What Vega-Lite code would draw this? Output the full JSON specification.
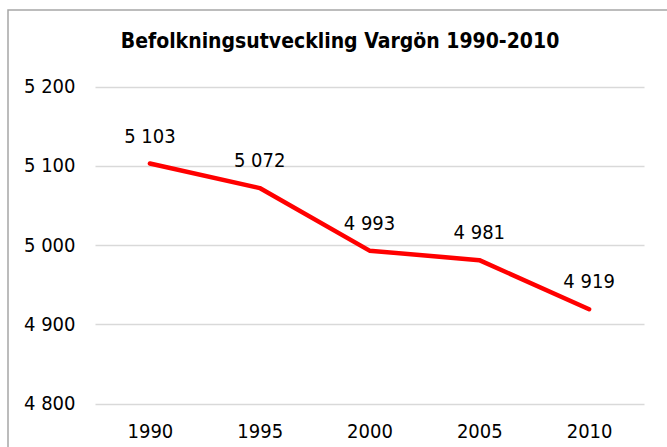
{
  "$schema": "https://vega.github.io/schema/vega-lite/v6.json",
  "autosize": {"type": "none"},
  "padding": {"left": 8, "top": 10, "right": 0, "bottom": 0},
  "width": 664,
  "height": 445,
  "background": "white",
  "config": {
    "font": "DejaVu Sans Condensed",
    "locale": {"number": {"decimal": ",", "thousands": " ", "grouping": [3], "currency": ["", " kr"]}},
    "view": {"stroke": "#a6a6a6", "strokeWidth": 1.5}
  },
  "title": {
    "text": "Befolkningsutveckling Vargön 1990-2010",
    "anchor": "middle",
    "frame": "group",
    "fontSize": 21,
    "fontWeight": "bold",
    "color": "#000000",
    "baseline": "alphabetic",
    "offset": -59
  },
  "data": {
    "values": [
      {"year": "1990", "pop": 5103},
      {"year": "1995", "pop": 5072},
      {"year": "2000", "pop": 4993},
      {"year": "2005", "pop": 4981},
      {"year": "2010", "pop": 4919}
    ]
  },
  "encoding": {
    "x": {
      "field": "year",
      "type": "ordinal",
      "scale": {"type": "point", "padding": 0.5, "range": [87, 636]},
      "axis": {
        "title": null,
        "labelAngle": 0,
        "domain": false,
        "ticks": false,
        "tickSize": 0,
        "labelPadding": 0,
        "labelBaseline": "alphabetic",
        "offset": -18,
        "labelFontSize": 20,
        "labelColor": "#000000",
        "grid": false
      }
    },
    "y": {
      "field": "pop",
      "type": "quantitative",
      "scale": {"domain": [4800, 5200], "range": [393.5, 76.7], "zero": false, "nice": false},
      "axis": {
        "title": null,
        "values": [4800, 4900, 5000, 5100, 5200],
        "format": ",d",
        "domain": false,
        "ticks": false,
        "tickSize": 0,
        "labelPadding": 0,
        "offset": -67,
        "labelFontSize": 20,
        "labelColor": "#000000",
        "grid": true,
        "gridColor": "#d9d9d9",
        "gridWidth": 1.3
      }
    }
  },
  "layer": [
    {"mark": {"type": "line", "color": "#ff0000", "strokeWidth": 4.5, "strokeCap": "round", "strokeJoin": "round"}},
    {
      "mark": {"type": "text", "fontSize": 20, "dy": -21, "baseline": "alphabetic", "color": "#000000"},
      "encoding": {"text": {"field": "pop", "type": "quantitative", "format": ",d"}}
    }
  ]
}
